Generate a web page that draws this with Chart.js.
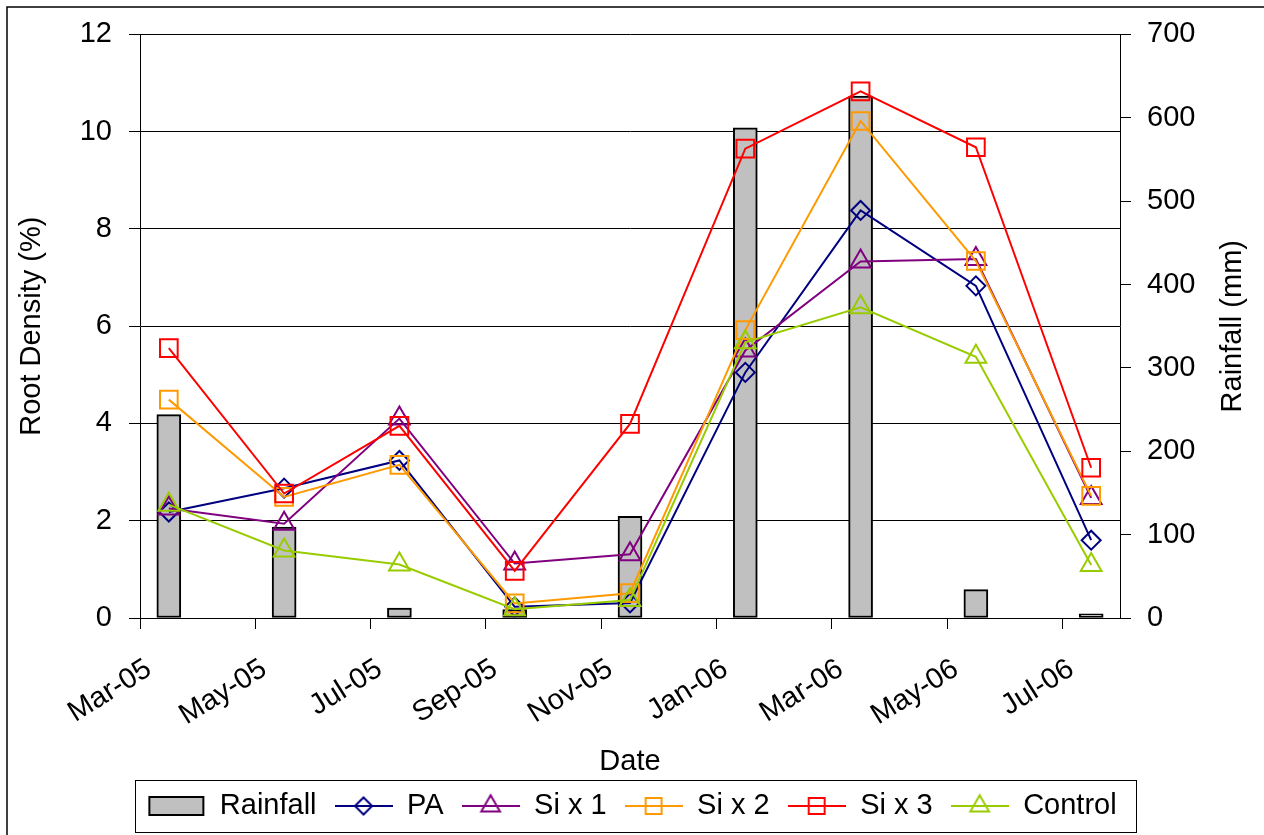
<!DOCTYPE html>
<html>
<head>
<meta charset="utf-8">
<title>Root Density and Rainfall</title>
<script src="https://cdn.jsdelivr.net/npm/chart.js@4.4.1/dist/chart.umd.min.js"></script>
<style>
  html, body { margin: 0; padding: 0; background: #fff; }
  canvas { display: block; }
</style>
</head>
<body>
<canvas id="chart" width="1264" height="835"></canvas>
<script>
// sampling dates (one reading every two months)
const sampleDates = ['Mar-05', 'May-05', 'Jul-05', 'Sep-05', 'Nov-05', 'Jan-06', 'Mar-06', 'May-06', 'Jul-06'];
const tickLabels = ['Mar-05', 'May-05', 'Jul-05', 'Sep-05', 'Nov-05', 'Jan-06', 'Mar-06', 'May-06', 'Jul-06'];
const axisEndLabel = 'Aug-06';

// rainfall in mm (right axis)
const rainfall = [244, 109, 12, 10, 122, 588, 626, 34, 5];

// root density in % (left axis)
const pa      = [2.18, 2.67, 3.24, 0.23, 0.31, 5.05, 8.38, 6.83, 1.60];
const si1     = [2.25, 1.94, 4.10, 1.12, 1.31, 5.50, 7.33, 7.38, 2.47];
const si2     = [4.49, 2.49, 3.15, 0.30, 0.51, 5.92, 10.22, 7.34, 2.51];
const si3     = [5.55, 2.56, 3.95, 0.97, 3.99, 9.65, 10.83, 9.68, 3.09];
const control = [2.33, 1.39, 1.10, 0.18, 0.37, 5.67, 6.39, 5.37, 1.09];

const monthNames = ['Jan', 'Feb', 'Mar', 'Apr', 'May', 'Jun', 'Jul', 'Aug', 'Sep', 'Oct', 'Nov', 'Dec'];
function monthIndex(label) {
    const parts = label.split('-');
    return (2000 + Number(parts[1])) * 12 + monthNames.indexOf(parts[0]);
}
const firstMonth = monthIndex(tickLabels[0]);
const tickValues = tickLabels.map(l => monthIndex(l) - firstMonth);
const axisEnd = monthIndex(axisEndLabel) - firstMonth;
// readings are plotted in the middle of their month (date axis, between tick marks)
const xOf = label => monthIndex(label) - firstMonth + 0.5;
const points = values => values.map((v, i) => ({ x: xOf(sampleDates[i]), y: v }));

const FONT = '"Liberation Sans", Arial, sans-serif';
Chart.defaults.font.family = FONT;
Chart.defaults.font.size = 29;
Chart.defaults.color = '#000';

function lineSet(label, values, color, style, radius, order) {
    return {
        type: 'line',
        label: label,
        data: points(values),
        yAxisID: 'y',
        borderColor: color,
        backgroundColor: color,
        borderWidth: 2,
        pointStyle: style,
        pointRadius: radius,
        pointHoverRadius: radius,
        pointBorderColor: color,
        pointBackgroundColor: 'rgba(0,0,0,0)',
        pointBorderWidth: 2,
        tension: 0,
        order: order
    };
}

const datasets = [
    {
        type: 'bar',
        label: 'Rainfall',
        data: points(rainfall),
        yAxisID: 'y1',
        backgroundColor: '#C0C0C0',
        borderColor: '#000',
        borderWidth: 2,
        borderSkipped: false,
        barThickness: 24,
        order: 10
    },
    lineSet('PA', pa, '#000080', 'rectRot', 9.5, 5),
    lineSet('Si x 1', si1, '#800080', 'triangle', 12, 4),
    lineSet('Si x 2', si2, '#FF9900', 'rect', 12.5, 3),
    lineSet('Si x 3', si3, '#FF0000', 'rect', 12.5, 2),
    lineSet('Control', control, '#99CC00', 'triangle', 12, 1)
];

// legend symbols: a line with its marker, and a box for the bars
function makeIcon(ds) {
    const c = document.createElement('canvas');
    c.width = 58;
    c.height = 26;
    const g = c.getContext('2d');
    if (ds.type === 'bar') {
        g.fillStyle = ds.backgroundColor;
        g.fillRect(2, 4, 54, 18);
        g.strokeStyle = '#000';
        g.lineWidth = 2;
        g.strokeRect(2, 4, 54, 18);
    } else {
        g.strokeStyle = ds.borderColor;
        g.lineWidth = 2;
        g.beginPath();
        g.moveTo(0, 13);
        g.lineTo(58, 13);
        g.stroke();
        g.fillStyle = 'rgba(0,0,0,0)';
        Chart.helpers.drawPoint(g, { pointStyle: ds.pointStyle, radius: ds.pointRadius * 0.9, rotation: 0, borderWidth: 2 }, 29, 13);
    }
    return c;
}
const legendIcons = datasets.map(makeIcon);

const extrasPlugin = {
    id: 'extras',
    beforeDraw(chart) {
        const ctx = chart.ctx;
        ctx.save();
        ctx.fillStyle = '#fff';
        ctx.fillRect(0, 0, chart.width, chart.height);
        ctx.restore();
    },
    afterDraw(chart) {
        const { ctx, chartArea, legend } = chart;
        ctx.save();
        // outer frame
        ctx.strokeStyle = '#000';
        ctx.lineWidth = 1.5;
        ctx.strokeRect(7, 7, chart.width + 20, chart.height + 20);

        // right axis title, reading upwards
        ctx.fillStyle = '#000';
        ctx.font = '29px ' + FONT;
        ctx.textAlign = 'center';
        ctx.textBaseline = 'middle';
        ctx.translate(1233, (chartArea.top + chartArea.bottom) / 2);
        ctx.rotate(-Math.PI / 2);
        ctx.fillText('Rainfall (mm)', 0, 0);
        ctx.restore();

        // legend frame
        const hb = legend.legendHitBoxes;
        if (hb && hb.length) {
            const first = hb[0];
            const last = hb[hb.length - 1];
            const cy = first.top + first.height / 2;
            ctx.save();
            ctx.strokeStyle = '#000';
            ctx.lineWidth = 1;
            ctx.strokeRect(Math.round(first.left - 12) + 0.5, Math.round(cy - 26) + 0.5,
                Math.round(last.left + last.width + 20 - (first.left - 12)), 52);
            ctx.restore();
        }
    }
};

new Chart(document.getElementById('chart'), {
    type: 'line',
    data: { datasets: datasets },
    plugins: [extrasPlugin],
    options: {
        responsive: false,
        animation: false,
        layout: { padding: { top: 33, left: 0, right: 0, bottom: 4.5 } },
        plugins: {
            tooltip: { enabled: false },
            legend: {
                position: 'bottom',
                labels: {
                    usePointStyle: true,
                    pointStyleWidth: 58,
                    padding: 18,
                    color: '#000',
                    font: { size: 29 },
                    sort: (a, b) => a.datasetIndex - b.datasetIndex,
                    generateLabels(chart) {
                        const items = Chart.defaults.plugins.legend.labels.generateLabels(chart);
                        items.forEach(it => { it.pointStyle = legendIcons[it.datasetIndex]; });
                        return items;
                    }
                }
            }
        },
        scales: {
            x: {
                type: 'linear',
                min: 0,
                max: axisEnd,
                offset: false,
                afterBuildTicks: s => { s.ticks = tickValues.map(v => ({ value: v })); },
                afterFit: s => { s.height = 155.5; },
                grid: { drawOnChartArea: false, drawTicks: true, tickLength: 11, color: '#000', lineWidth: 1, offset: false },
                border: { color: '#000', width: 1 },
                ticks: {
                    autoSkip: false,
                    minRotation: 32,
                    maxRotation: 32,
                    padding: 23,
                    labelOffset: 9,
                    color: '#000',
                    callback: (value, index) => tickLabels[index]
                },
                title: { display: true, text: 'Date', color: '#000', font: { size: 29, lineHeight: 0.79 }, padding: 0 }
            },
            y: {
                position: 'left',
                min: 0,
                max: 12,
                afterFit: s => { s.width = 140; },
                ticks: { stepSize: 2, padding: 17, color: '#000' },
                grid: { color: '#000', lineWidth: 1, tickLength: 11 },
                border: { color: '#000', width: 1 },
                title: { display: true, text: 'Root Density (%)', color: '#000', font: { size: 29 }, padding: { top: 14.5, bottom: 0 } }
            },
            y1: {
                position: 'right',
                min: 0,
                max: 700,
                afterFit: s => { s.width = 144; },
                ticks: { stepSize: 100, padding: 16, color: '#000' },
                grid: { drawOnChartArea: false, color: '#000', lineWidth: 1, tickLength: 11 },
                border: { color: '#000', width: 1 }
            }
        }
    }
});
</script>
</body>
</html>
